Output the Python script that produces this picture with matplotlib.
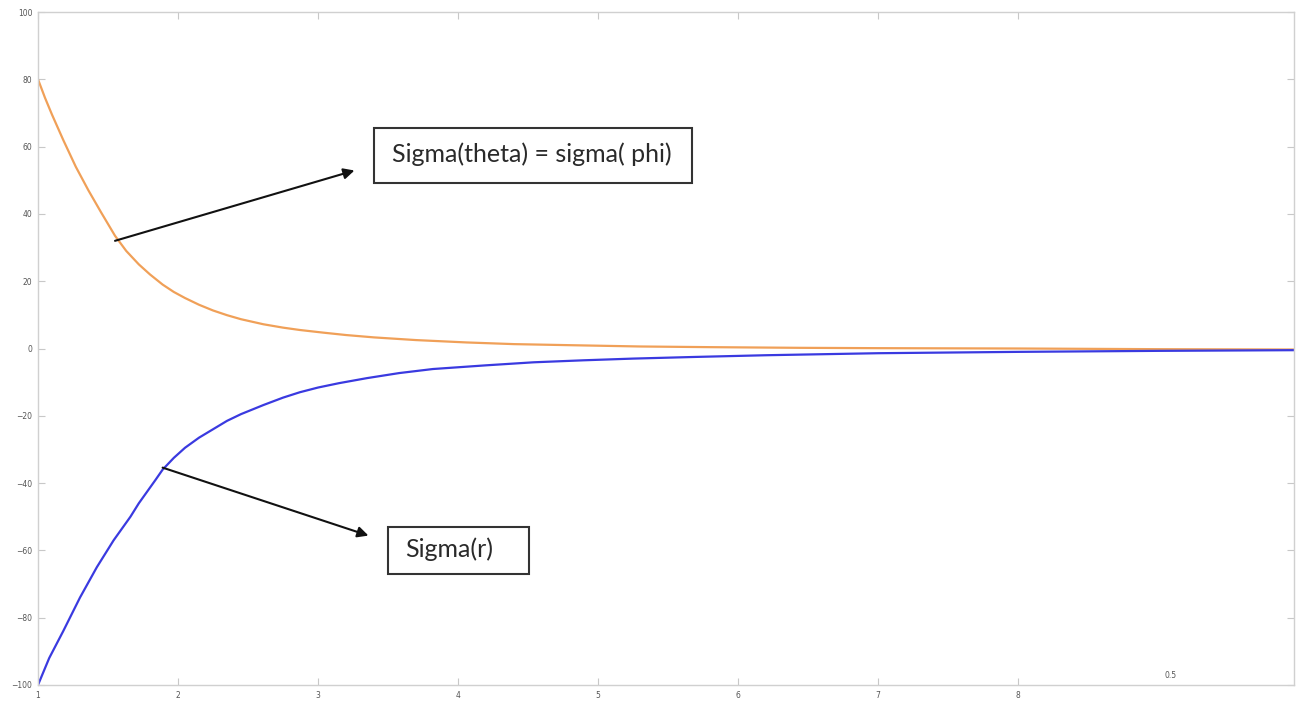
import matplotlib
matplotlib.use("Agg")
import matplotlib.pyplot as plt
from matplotlib.patches import Rectangle

# ---- data ----
x_theta = [1.0, 1.05, 1.1, 1.18, 1.27, 1.36, 1.45, 1.55, 1.63, 1.72, 1.8, 1.89, 1.97,
           2.05, 2.15, 2.25, 2.35, 2.45, 2.61, 2.75, 2.87, 3.04, 3.2, 3.4, 3.7, 4.06,
           4.4, 4.78, 5.3, 5.8, 6.44, 7.0, 8.0, 9.0, 9.97]
y_theta = [80, 74.5, 69.5, 62, 54, 47, 40.5, 33.5, 29, 25, 22, 19, 16.8,
           15, 13, 11.3, 9.9, 8.7, 7.2, 6.2, 5.5, 4.7, 4.0, 3.3, 2.5, 1.8,
           1.3, 1.0, 0.6, 0.4, 0.2, 0.1, 0.0, -0.2, -0.3]

x_r = [1.0, 1.04, 1.08, 1.13, 1.18, 1.24, 1.3, 1.36, 1.42, 1.48, 1.54, 1.6, 1.66,
       1.72, 1.78, 1.84, 1.89, 1.97, 2.05, 2.15, 2.25, 2.35, 2.45, 2.61, 2.75, 2.87,
       3.0, 3.15, 3.35, 3.58, 3.82, 4.2, 4.54, 4.9, 5.25, 5.7, 6.2, 7.0, 8.0, 9.0, 9.97]
y_r = [-100, -96, -92, -88, -84, -79, -74, -69.5, -65, -61, -57, -53.5, -50,
       -46, -42.5, -39, -36, -32.5, -29.5, -26.5, -24, -21.5, -19.5, -16.8, -14.6, -13,
       -11.6, -10.3, -8.8, -7.3, -6.1, -5.0, -4.1, -3.5, -3.0, -2.5, -2.0, -1.4, -1.0, -0.7, -0.5]

x_ticks = [1, 2, 3, 4, 5, 6, 7, 8]
y_ticks = [-100, -80, -60, -40, -20, 0, 20, 40, 60, 80, 100]

label_theta = "Sigma(theta) = sigma( phi)"
label_r = "Sigma(r)"

fig = plt.figure(figsize=(12.97, 7.03), dpi=100)
ax = fig.add_axes([38 / 1297, 1 - 685 / 703, (1294 - 38) / 1297, (685 - 12) / 703])

ax.plot(x_theta, y_theta, color="#f0a058", lw=1.6)
ax.plot(x_r, y_r, color="#3a3ae0", lw=1.6)

ax.set_xlim(1, 9.97)
ax.set_ylim(-100, 100)
ax.set_xticks(x_ticks)
ax.set_yticks(y_ticks)
ax.tick_params(direction="in", length=5, color="#c8c8c8", labelsize=5.5,
               labelcolor="#555555", top=True, right=True, pad=4)
for s in ax.spines.values():
    s.set_color("#d0d0d0")
    s.set_linewidth(1.0)

# annotation boxes
ax.add_patch(Rectangle((3.4, 49.3), 2.27, 16.1, fill=False, ec="#333333", lw=1.5, zorder=5))
ax.text(3.53, 57.6, label_theta, fontsize=18, family="Lato", color="#2a2a2a",
        va="center", ha="left", zorder=6)
ax.add_patch(Rectangle((3.5, -66.9), 1.01, 14.0, fill=False, ec="#333333", lw=1.5, zorder=5))
ax.text(3.62, -59.6, label_r, fontsize=18, family="Lato", color="#2a2a2a",
        va="center", ha="left", zorder=6)

ax.annotate("", xy=(3.26, 52.9), xytext=(1.55, 32.0),
            arrowprops=dict(arrowstyle="-|>", color="#111111", lw=1.5,
                            mutation_scale=16, shrinkA=0, shrinkB=0))
ax.annotate("", xy=(3.36, -55.6), xytext=(1.89, -35.4),
            arrowprops=dict(arrowstyle="-|>", color="#111111", lw=1.5,
                            mutation_scale=16, shrinkA=0, shrinkB=0))

# small stray label near bottom right
fig.text(1171 / 1297, 1 - 676 / 703, "0.5", fontsize=5.5, color="#555555", ha="center", va="center")

fig.savefig("out.png", dpi=100, facecolor="white")
